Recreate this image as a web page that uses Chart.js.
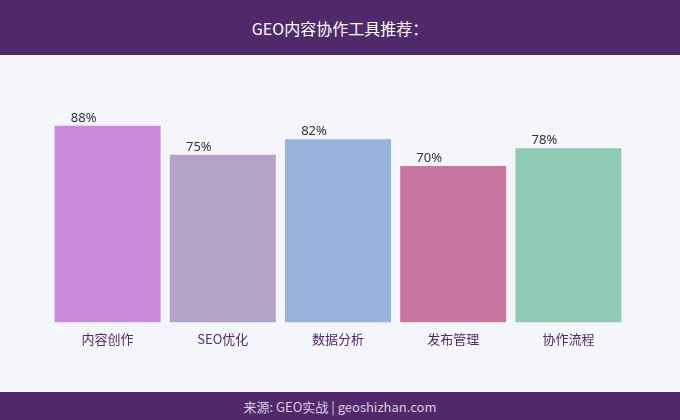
<!DOCTYPE html><html><head><meta charset="utf-8">
<script src="https://cdn.jsdelivr.net/npm/chart.js@4"></script>
<style>body{margin:0;width:680px;height:420px;font-family:"Noto Sans CJK SC","Noto Sans",sans-serif;background:#f5f6fb;overflow:hidden}
#h{height:55px;background:#50296a;color:#fff;font-size:16px;display:flex;align-items:center;justify-content:center}
#c{position:absolute;left:0;top:55px;width:680px;height:337px}
#f{position:absolute;left:0;top:392px;width:680px;height:28px;background:#50296a;color:#d8cce0;font-size:13px;display:flex;align-items:center;justify-content:center}</style></head><body>
<div id="h">GEO内容协作工具推荐：</div><div id="c"><canvas id="cv"></canvas></div><div id="f">来源: GEO实战 | geoshizhan.com</div>
<script>
const categories=["内容创作","SEO优化","数据分析","发布管理","协作流程"];
const values=[88,75,82,70,78];
const colors=["#c88bdc","#b5a2c8","#98b4dc","#c878a0","#8ecab4"];
const lbl={id:"lbl",afterDatasetsDraw(ch){const c=ch.ctx;const m=ch.getDatasetMeta(0);c.save();c.font="13px 'Noto Sans','DejaVu Sans',sans-serif";c.fillStyle="#333";c.textAlign="center";c.textBaseline="bottom";
m.data.forEach((b,i)=>{c.fillText(values[i]+"%",b.x-b.width/2+29,b.y-1);});c.restore();}};
new Chart(document.getElementById("cv"),{type:"bar",data:{labels:categories,datasets:[{data:values,backgroundColor:colors,barPercentage:0.92,categoryPercentage:1}]},
options:{responsive:true,maintainAspectRatio:false,animation:false,layout:{padding:{left:50,right:54,top:44,bottom:44}},
plugins:{legend:{display:false},tooltip:{enabled:false}},
scales:{y:{display:false,min:0,max:100},x:{grid:{display:false},border:{display:false},ticks:{color:"#50296a",font:{size:13,family:"'Noto Sans CJK SC',sans-serif"},padding:1}}}},plugins:[lbl]});
</script></body></html>
